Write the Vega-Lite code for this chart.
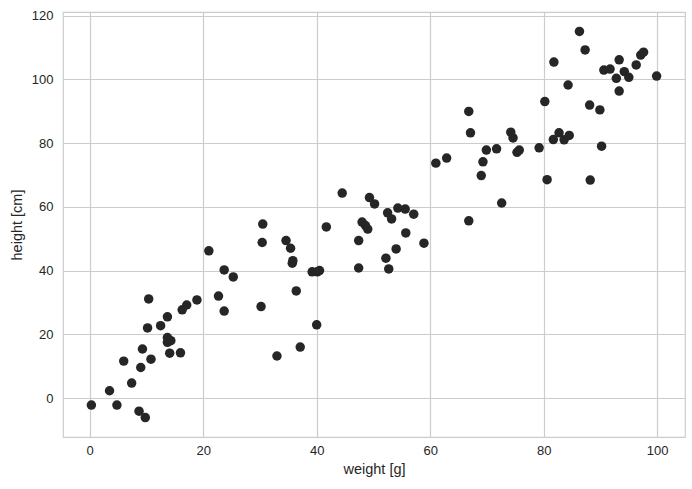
{
  "$schema": "https://vega.github.io/schema/vega-lite/v6.json",
  "width": 622,
  "height": 425,
  "autosize": {"type": "none"},
  "padding": {"left": 63, "top": 12, "right": 7, "bottom": 52},
  "background": "white",
  "config": {
    "view": {"stroke": "#cccccc", "strokeWidth": 1.2},
    "font": "Liberation Sans",
    "axis": {
      "ticks": false,
      "domain": false,
      "gridColor": "#cccccc",
      "gridWidth": 1.2,
      "labelColor": "#262626",
      "labelFontSize": 13,
      "labelFont": "Liberation Sans",
      "titleColor": "#262626",
      "titleFontSize": 14.5,
      "titleFont": "Liberation Sans",
      "titleFontWeight": "normal"
    }
  },
  "data": {
    "values": [
      {"weight": 0.3, "height": -2.2},
      {"weight": 3.5, "height": 2.3},
      {"weight": 4.8, "height": -2.2},
      {"weight": 6.0, "height": 11.6},
      {"weight": 7.4, "height": 4.7},
      {"weight": 8.7, "height": -4.1},
      {"weight": 9.8, "height": -6.1},
      {"weight": 9.0, "height": 9.6},
      {"weight": 9.3, "height": 15.4},
      {"weight": 10.4, "height": 31.1},
      {"weight": 10.2, "height": 22.0},
      {"weight": 10.8, "height": 12.2},
      {"weight": 12.5, "height": 22.7},
      {"weight": 13.7, "height": 25.5},
      {"weight": 13.7, "height": 19.0},
      {"weight": 13.7, "height": 17.5},
      {"weight": 14.3, "height": 18.0},
      {"weight": 14.1, "height": 14.1},
      {"weight": 16.0, "height": 14.2},
      {"weight": 16.3, "height": 27.7},
      {"weight": 17.1, "height": 29.2},
      {"weight": 18.9, "height": 30.8},
      {"weight": 21.0, "height": 46.2},
      {"weight": 22.7, "height": 32.0},
      {"weight": 23.7, "height": 40.2},
      {"weight": 23.7, "height": 27.3},
      {"weight": 25.3, "height": 38.0},
      {"weight": 30.2, "height": 28.7},
      {"weight": 30.4, "height": 48.8},
      {"weight": 30.5, "height": 54.6},
      {"weight": 33.0, "height": 13.2},
      {"weight": 34.6, "height": 49.4},
      {"weight": 35.4, "height": 47.0},
      {"weight": 35.8, "height": 43.1},
      {"weight": 35.7, "height": 42.3},
      {"weight": 36.4, "height": 33.6},
      {"weight": 37.1, "height": 16.0},
      {"weight": 39.2, "height": 39.6},
      {"weight": 40.1, "height": 39.6},
      {"weight": 40.5, "height": 40.0},
      {"weight": 40.0, "height": 23.0},
      {"weight": 41.7, "height": 53.7},
      {"weight": 44.5, "height": 64.3},
      {"weight": 47.4, "height": 49.4},
      {"weight": 47.4, "height": 40.8},
      {"weight": 48.0, "height": 55.2},
      {"weight": 48.6, "height": 54.1},
      {"weight": 49.0, "height": 53.0},
      {"weight": 49.3, "height": 62.9},
      {"weight": 50.2, "height": 60.9},
      {"weight": 52.2, "height": 43.9},
      {"weight": 52.5, "height": 58.1},
      {"weight": 52.7, "height": 40.5},
      {"weight": 53.2, "height": 56.2},
      {"weight": 54.0, "height": 46.8},
      {"weight": 54.3, "height": 59.6},
      {"weight": 55.6, "height": 59.3},
      {"weight": 55.7, "height": 51.8},
      {"weight": 57.1, "height": 57.7},
      {"weight": 58.9, "height": 48.6},
      {"weight": 61.0, "height": 73.7},
      {"weight": 62.9, "height": 75.3},
      {"weight": 66.8, "height": 89.9},
      {"weight": 67.1, "height": 83.2},
      {"weight": 66.8, "height": 55.6},
      {"weight": 69.0, "height": 69.8},
      {"weight": 69.3, "height": 74.1},
      {"weight": 69.9, "height": 77.8},
      {"weight": 71.7, "height": 78.2},
      {"weight": 72.6, "height": 61.2},
      {"weight": 74.2, "height": 83.4},
      {"weight": 74.6, "height": 81.6},
      {"weight": 75.3, "height": 77.1},
      {"weight": 75.7, "height": 77.8},
      {"weight": 79.2, "height": 78.5},
      {"weight": 80.2, "height": 93.0},
      {"weight": 80.6, "height": 68.5},
      {"weight": 81.7, "height": 81.1},
      {"weight": 81.8, "height": 105.4},
      {"weight": 82.7, "height": 83.2},
      {"weight": 83.6, "height": 81.0},
      {"weight": 84.5, "height": 82.4},
      {"weight": 84.3, "height": 98.2},
      {"weight": 86.3, "height": 115.0},
      {"weight": 87.3, "height": 109.2},
      {"weight": 88.1, "height": 91.9},
      {"weight": 88.2, "height": 68.4},
      {"weight": 89.9, "height": 90.4},
      {"weight": 90.2, "height": 79.0},
      {"weight": 90.6, "height": 102.9},
      {"weight": 91.7, "height": 103.2},
      {"weight": 92.8, "height": 100.3},
      {"weight": 93.3, "height": 106.1},
      {"weight": 93.3, "height": 96.3},
      {"weight": 94.2, "height": 102.4},
      {"weight": 95.0, "height": 100.6},
      {"weight": 96.3, "height": 104.5},
      {"weight": 97.1, "height": 107.6},
      {"weight": 97.6, "height": 108.5},
      {"weight": 99.9, "height": 101.0}
    ]
  },
  "mark": {"type": "point", "filled": true, "shape": "circle", "size": 90, "color": "#262626", "opacity": 1},
  "encoding": {
    "x": {
      "field": "weight",
      "type": "quantitative",
      "title": "weight [g]",
      "scale": {"domain": [-4.7, 104.9], "nice": false, "zero": false},
      "axis": {"values": [0, 20, 40, 60, 80, 100], "labelPadding": 7, "titlePadding": 5}
    },
    "y": {
      "field": "height",
      "type": "quantitative",
      "title": "height [cm]",
      "scale": {"domain": [-12.2, 121.1], "nice": false, "zero": false},
      "axis": {"values": [0, 20, 40, 60, 80, 100, 120], "labelPadding": 10, "titlePadding": 7}
    }
  }
}
